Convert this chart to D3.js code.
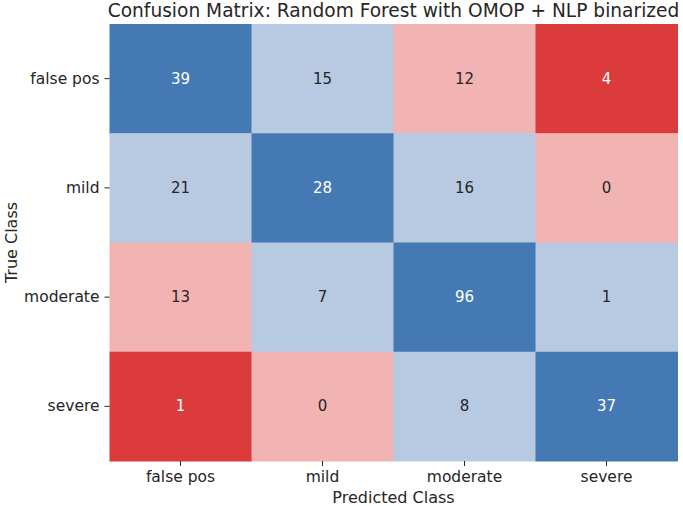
<!DOCTYPE html>
<html><head><meta charset="utf-8">
<script src="https://cdn.jsdelivr.net/npm/d3@7"></script>
<style>body{margin:0;background:#fff}text{font-family:"DejaVu Sans",sans-serif}</style>
</head><body><svg id="c" width="683" height="506"></svg>
<script>
const classes = ["false pos","mild","moderate","severe"];
const values = [
  [39,15,12,4],
  [21,28,16,0],
  [13,7,96,1],
  [1,0,8,37]
];
const colorLevels = [0,1,2,3];
const colorRange = ["#4479b4","#b7cae2","#f2b3b3","#dc3b3b"];
const textRange = ["#ffffff","#262626","#262626","#ffffff"];

const svg = d3.select("#c");
const L=109.5,R=677.5,T=24,B=461;
const x = d3.scaleBand().domain(classes).range([L,R]);
const y = d3.scaleBand().domain(classes).range([T,B]);
const col = d3.scaleOrdinal().domain(colorLevels).range(colorRange);
const tcol = d3.scaleOrdinal().domain(colorLevels).range(textRange);

const cells=[];
values.forEach((row,i)=>row.forEach((v,j)=>cells.push({r:classes[i],c:classes[j],v,d:Math.abs(i-j)})));

svg.selectAll("rect").data(cells).join("rect")
  .attr("x",d=>x(d.c)).attr("y",d=>y(d.r))
  .attr("width",x.bandwidth()+0.5).attr("height",y.bandwidth()+0.5)
  .attr("fill",d=>col(d.d));
svg.selectAll("text.v").data(cells).join("text").attr("class","v")
  .attr("x",d=>x(d.c)+x.bandwidth()/2).attr("y",d=>y(d.r)+y.bandwidth()/2)
  .attr("text-anchor","middle").attr("dominant-baseline","central")
  .attr("font-size",15).attr("fill",d=>tcol(d.d)).text(d=>d.v);

const xa = svg.append("g").attr("transform",`translate(0,${B})`)
  .call(d3.axisBottom(x).tickSize(5).tickPadding(5));
const ya = svg.append("g").attr("transform",`translate(${L},0)`)
  .call(d3.axisLeft(y).tickSize(5).tickPadding(5));
[xa,ya].forEach(a=>{a.select(".domain").remove();
  a.selectAll("line").attr("stroke","#262626");
  a.selectAll("text").attr("font-size",15.5).attr("fill","#262626").style("font-family","DejaVu Sans");});

svg.append("text").attr("x",(L+R)/2).attr("y",17).attr("text-anchor","middle")
  .attr("font-size",18.6).attr("fill","#262626").text("Confusion Matrix: Random Forest with OMOP + NLP binarized");
svg.append("text").attr("x",(L+R)/2).attr("y",503).attr("text-anchor","middle")
  .attr("font-size",16).attr("fill","#262626").text("Predicted Class");
svg.append("text").attr("transform",`translate(17,${(T+B)/2}) rotate(-90)`).attr("text-anchor","middle")
  .attr("font-size",16).attr("fill","#262626").text("True Class");
</script></body></html>
